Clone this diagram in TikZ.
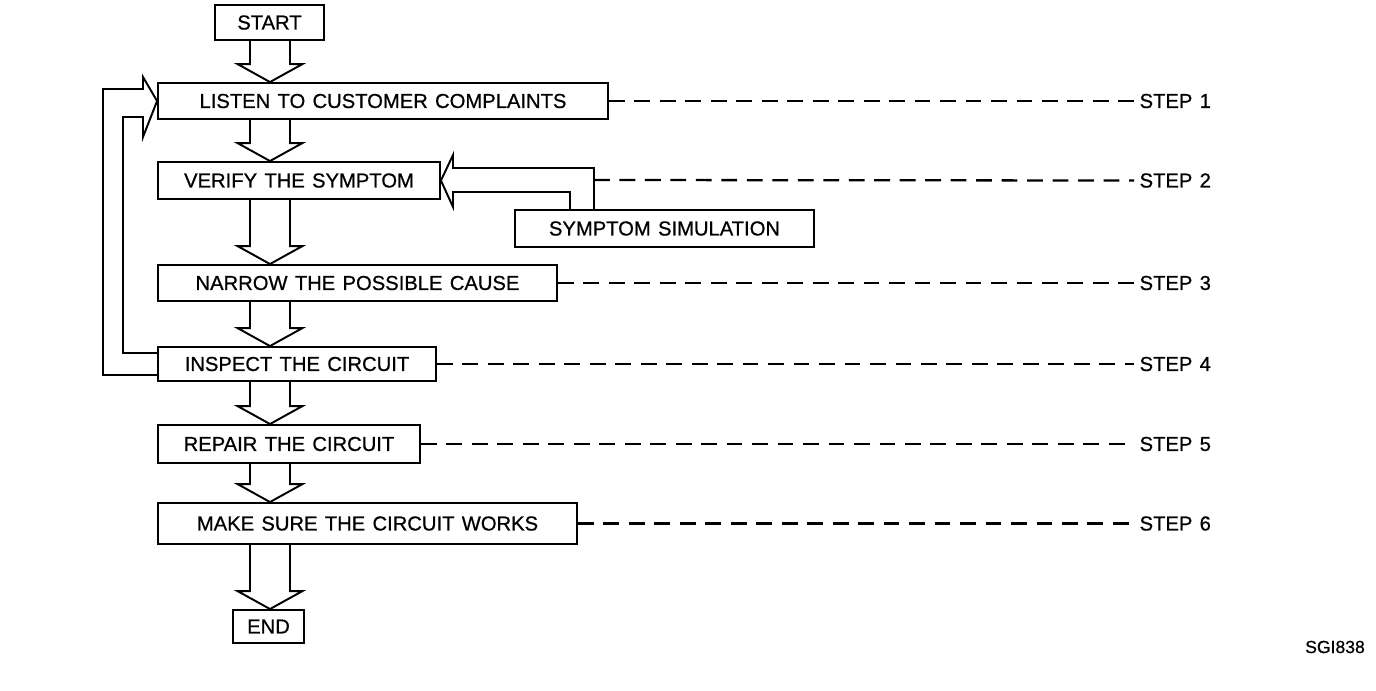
\documentclass[tikz,border=0pt]{standalone}
\usepackage{fontspec}
\setmainfont{Liberation Sans}
\newfontfamily\boxfamily{Liberation Sans}[FakeBold=0.7, WordSpace=1.3]
\usepackage{tikz}
\usetikzlibrary{calc}

\newcommand{\boxfont}{\boxfamily\fontsize{11.5}{13}\selectfont}
% hollow block arrow straight down, from one box to the next
\newcommand{\blockdown}[2]{%
  \draw[blk] let \p1=(axis |- #1.south), \p2=(axis |- #2.north) in
    (\x1-0.4cm,\y1) -- (\x1-0.4cm,\y2+0.36cm) -- (\x1-0.65cm,\y2+0.36cm) -- (\x2,\y2)
    -- (\x1+0.65cm,\y2+0.36cm) -- (\x1+0.4cm,\y2+0.36cm) -- (\x1+0.4cm,\y1);}

\begin{document}
\begin{tikzpicture}[x=0.02cm, y=-0.02cm,
    box/.style={draw, line width=1.1pt, inner sep=0pt, font=\boxfont},
    blk/.style={line width=1.1pt, line join=miter},
    lead/.style={line width=1.3pt, dash pattern=on 9pt off 5.5pt},
    steplbl/.style={anchor=west, inner sep=3pt, font=\boxfont},
  ]
    \useasboundingbox (0,0) rectangle (1376,690);

    \node[box, minimum width=2.18cm, minimum height=0.70cm] (start)   at (269.5, 22.5) {START};
    \node[box, minimum width=9.00cm, minimum height=0.72cm] (listen)  at (383,  101)   {LISTEN TO CUSTOMER COMPLAINTS};
    \node[box, minimum width=5.64cm, minimum height=0.74cm] (verify)  at (299,  180.5) {VERIFY THE SYMPTOM};
    \node[box, minimum width=5.98cm, minimum height=0.74cm] (simul)   at (664.5,228.5) {SYMPTOM SIMULATION};
    \node[box, minimum width=7.98cm, minimum height=0.72cm] (narrow)  at (357.5,283)   {NARROW THE POSSIBLE CAUSE};
    \node[box, minimum width=5.56cm, minimum height=0.68cm] (inspect) at (297,  364)   {INSPECT THE CIRCUIT};
    \node[box, minimum width=5.24cm, minimum height=0.76cm] (repair)  at (289,  444)   {REPAIR THE CIRCUIT};
    \node[box, minimum width=8.38cm, minimum height=0.82cm] (make)    at (367.5,523.5) {MAKE SURE THE CIRCUIT WORKS};
    \node[box, minimum width=1.42cm, minimum height=0.66cm] (end)     at (268.5,626.5) {END};

    % main flow
    \coordinate (axis) at (270,0);
    \blockdown{start}{listen}
    \blockdown{listen}{verify}
    \blockdown{verify}{narrow}
    \blockdown{narrow}{inspect}
    \blockdown{inspect}{repair}
    \blockdown{repair}{make}
    \blockdown{make}{end}

    % back from inspection to step 1
    \draw[blk] ([yshift=-0.22cm]inspect.west) -| (103,89) -- (143,89) -- (143,77)
      -- (listen.west) -- (143,137) -- (143,117) -- (123,117) |- ([yshift=0.22cm]inspect.west);

    % simulation feeds the symptom check
    \draw[blk] ([xshift=-1.89cm]simul.north) |- (453,192) -- (453,207) -- (verify.east)
      -- (453,155) -- (453,168) -| ([xshift=-1.41cm]simul.north);
    \coordinate (simtap) at (594,180);

    % step labels
    \coordinate (stepx) at (1134,0);
    \node[steplbl] (step1) at (stepx |- listen.east)  {STEP 1};
    \node[steplbl] (step2) at (stepx |- verify.east)  {STEP 2};
    \node[steplbl] (step3) at (stepx |- narrow.east)  {STEP 3};
    \node[steplbl] (step4) at (stepx |- inspect.east) {STEP 4};
    \node[steplbl] (step5) at (stepx |- repair.east)  {STEP 5};
    \node[steplbl] (step6) at (stepx |- make.east)    {STEP 6};

    \draw[lead] (listen.east)  -- (step1.west);
    \draw[lead] (simtap)       -- (step2.west);
    \draw[lead] (narrow.east)  -- (step3.west);
    \draw[lead] (inspect.east) -- (step4.west);
    \draw[lead] (repair.east)  -- (step5.west);
    \draw[lead] (make.east)    -- (step6.west);

    \node[font=\boxfamily\fontsize{10}{12}\selectfont] (code) at (1335,647) {SGI838};
  \end{tikzpicture}
\end{document}
